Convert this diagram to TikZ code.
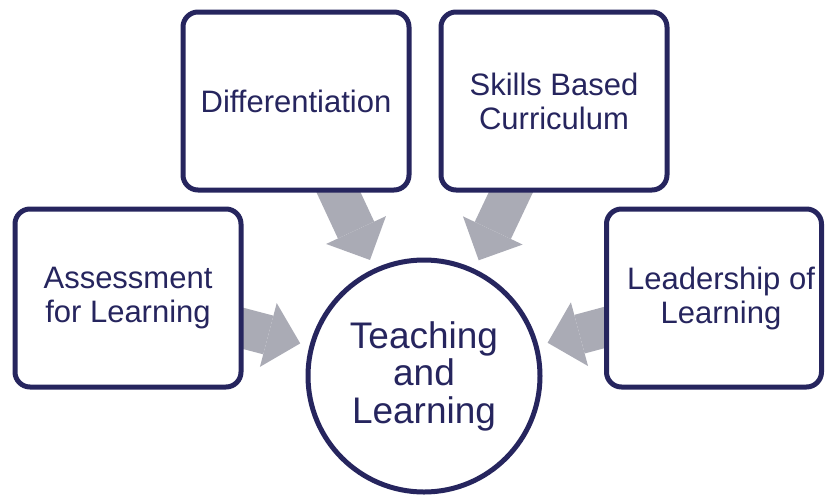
\documentclass[tikz,border=0pt]{standalone}
\usepackage{fontspec}
\setmainfont{Liberation Sans}
\usetikzlibrary{arrows.meta,backgrounds}
\definecolor{navy}{RGB}{38,37,94}
\definecolor{arrowgray}{RGB}{170,171,181}

\begin{document}
\begin{tikzpicture}
  [x=1pt,y=-1pt,
   box/.style={draw=navy,line width=5pt,rounded corners=15pt,fill=white,
     minimum width=226pt,minimum height=178pt,align=center,text=navy,
     font=\fontsize{31}{34}\selectfont},
   hubcircle/.style={circle,draw=navy,line width=5pt,fill=white,
     minimum size=232pt,align=center,text=navy,
     font=\fontsize{37}{37.5}\selectfont},
   flow/.style={draw=arrowgray,line width=40pt,shorten >=128pt,
     -{Triangle[length=33pt,width=66pt,line width=0pt]}}]
  \useasboundingbox (0,0) rectangle (825,496);
  \node[hubcircle] (hub) at (424,376) {Teaching\\and\\Learning};
  \node[box] (diff) at (296,101) {Differentiation};
  \node[box] (skills) at (554,101) {Skills Based\\Curriculum};
  \node[box] (afl) at (128,298) {Assessment\\for Learning};
  \node[box,minimum width=215pt] (lead) at (714,298) {};
  \node[text=navy,align=center,font=\fontsize{31}{34}\selectfont] (leadtext)
    at (721,298) {Leadership of\\Learning};
  \begin{scope}[on background layer]
    \foreach \b in {diff,skills,afl,lead}
      \draw[flow] (\b.center) -- (hub.center);
  \end{scope}
\end{tikzpicture}
\end{document}
